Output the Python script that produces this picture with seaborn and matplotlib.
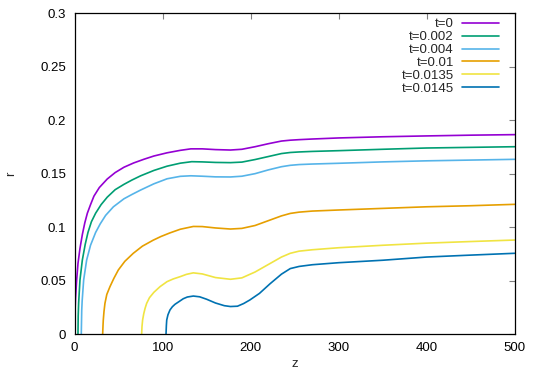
import numpy as np
import pandas as pd
import matplotlib
matplotlib.use("Agg")
import matplotlib.pyplot as plt
import seaborn as sns

# curves r(z)
z_t0 = [0, 0.5, 1, 2.2, 3.75, 6, 8.7, 11.5, 14.4, 18, 21.9, 28, 37, 46, 56, 67, 78.8, 90, 105, 120, 132, 145, 160, 177, 190, 205, 220, 235, 245, 255, 270, 300, 350, 400, 450, 500]
r_t0 = [0, 0.024, 0.034, 0.05, 0.066, 0.08, 0.093, 0.104, 0.113, 0.121, 0.129, 0.137, 0.145, 0.151, 0.156, 0.160, 0.1635, 0.1665, 0.1695, 0.1718, 0.1732, 0.1732, 0.1725, 0.1721, 0.1728, 0.1752, 0.178, 0.1805, 0.1813, 0.1818, 0.1824, 0.1834, 0.1845, 0.1853, 0.186, 0.1865]

z_t1 = [3.75, 4.0, 4.5, 6, 8.7, 12, 15.1, 19, 23.8, 30, 37, 46, 56, 65, 75, 90, 105, 120, 133, 145, 160, 177, 190, 205, 220, 235, 245, 255, 270, 300, 350, 400, 450, 500]
r_t1 = [0, 0.017, 0.029, 0.0505, 0.0692, 0.084, 0.095, 0.105, 0.113, 0.121, 0.128, 0.135, 0.140, 0.144, 0.148, 0.153, 0.157, 0.1598, 0.1612, 0.161, 0.1605, 0.1603, 0.1608, 0.1632, 0.166, 0.1688, 0.1698, 0.1703, 0.1708, 0.1715, 0.1728, 0.174, 0.1746, 0.1752]

z_t2 = [7.5, 8, 8.5, 10.2, 13.6, 18, 23.8, 29, 35.2, 44, 56, 65, 75, 90, 105, 120, 132, 145, 160, 177, 190, 205, 220, 235, 245, 255, 270, 300, 350, 400, 450, 500]
r_t2 = [0, 0.022, 0.031, 0.0505, 0.0692, 0.083, 0.0950, 0.103, 0.111, 0.119, 0.1265, 0.1305, 0.1347, 0.1405, 0.1452, 0.1475, 0.148, 0.1476, 0.147, 0.1469, 0.1476, 0.150, 0.1535, 0.1565, 0.1578, 0.1585, 0.159, 0.1597, 0.161, 0.162, 0.1627, 0.1634]

z_t3 = [31.8, 32.2, 32.5, 33.3, 34.4, 36.5, 40.1, 44.5, 49.6, 57, 66.6, 77, 89.3, 98, 108, 120, 134.8, 145, 160, 177, 190, 205, 220, 235, 245, 255, 270, 300, 350, 400, 450, 500]
r_t3 = [0, 0.008, 0.013, 0.021, 0.0287, 0.037, 0.0443, 0.052, 0.0599, 0.068, 0.0755, 0.0822, 0.0878, 0.0912, 0.0945, 0.098, 0.1006, 0.1005, 0.0992, 0.0982, 0.0988, 0.1015, 0.106, 0.1105, 0.1128, 0.114, 0.115, 0.116, 0.1175, 0.119, 0.120, 0.1213]

z_t4 = [76.1, 76.5, 77.2, 78.5, 80, 81.8, 85, 90, 97, 105, 112, 119.7, 127, 134.8, 145, 160, 177, 190, 205, 220, 235, 245, 255, 270, 300, 350, 400, 450, 500]
r_t4 = [0, 0.007, 0.0131, 0.019, 0.024, 0.0287, 0.034, 0.039, 0.0443, 0.049, 0.0515, 0.0536, 0.0558, 0.0572, 0.0562, 0.0528, 0.0512, 0.0525, 0.058, 0.065, 0.072, 0.0755, 0.0775, 0.0788, 0.0807, 0.083, 0.085, 0.0865, 0.0879]

z_t5 = [103.8, 104.2, 104.6, 106, 108.3, 111, 114, 118, 123.4, 128, 134.8, 142, 150, 160, 170, 177, 185, 192, 199, 210, 222, 235, 245, 255, 270, 300, 350, 400, 450, 500]
r_t5 = [0, 0.008, 0.0131, 0.018, 0.0225, 0.0255, 0.0278, 0.030, 0.0330, 0.0346, 0.0355, 0.0348, 0.0325, 0.029, 0.0265, 0.0257, 0.026, 0.0285, 0.0318, 0.038, 0.047, 0.056, 0.0612, 0.0632, 0.0648, 0.0667, 0.069, 0.072, 0.0738, 0.0755]

labels = ["t=0", "t=0.002", "t=0.004", "t=0.01", "t=0.0135", "t=0.0145"]
colors = ["#9400d3", "#009e73", "#56b4e9", "#e69f00", "#f0e442", "#0072b2"]

zs = [z_t0, z_t1, z_t2, z_t3, z_t4, z_t5]
rs = [r_t0, r_t1, r_t2, r_t3, r_t4, r_t5]
df = pd.concat([pd.DataFrame({"z": z, "r": r, "t": lab}) for z, r, lab in zip(zs, rs, labels)])

sns.set_style("white")
plt.rcParams["font.family"] = ["Liberation Sans", "DejaVu Sans"]

fig = plt.figure(figsize=(5.4, 3.78), dpi=100)
ax = fig.add_axes([0.1383, 0.1164, 0.8148, 0.8484])

sns.lineplot(data=df, x="z", y="r", hue="t", hue_order=labels,
             palette=dict(zip(labels, colors)), estimator=None, sort=False,
             linewidth=1.2, ax=ax)

ax.set_xlim(0, 500)
ax.set_ylim(0, 0.3)
ax.set_xticks([0, 100, 200, 300, 400, 500])
ax.set_yticks([0, 0.05, 0.1, 0.15, 0.2, 0.25, 0.3])
ax.set_yticklabels(["0", "0.05", "0.1", "0.15", "0.2", "0.25", "0.3"])
ax.tick_params(direction="in", length=4, width=0.8, color="#808080",
               top=True, right=True, labelsize=9.5, pad=6, labelcolor="black")
for s in ax.spines.values():
    s.set_color("black")
    s.set_linewidth(0.9)

ax.set_xlabel("z", fontsize=9.5)
ax.set_ylabel("r", fontsize=9.5)
ax.xaxis.set_label_coords(0.5, -0.075)
ax.yaxis.set_label_coords(-0.13, 0.5)

ax.legend(loc="upper right", bbox_to_anchor=(0.965, 0.985), frameon=False,
          markerfirst=False, fontsize=9.5, handlelength=2.8, handletextpad=0.65,
          labelspacing=0.05, borderpad=0, borderaxespad=0)

fig.savefig("out.png", dpi=100)
